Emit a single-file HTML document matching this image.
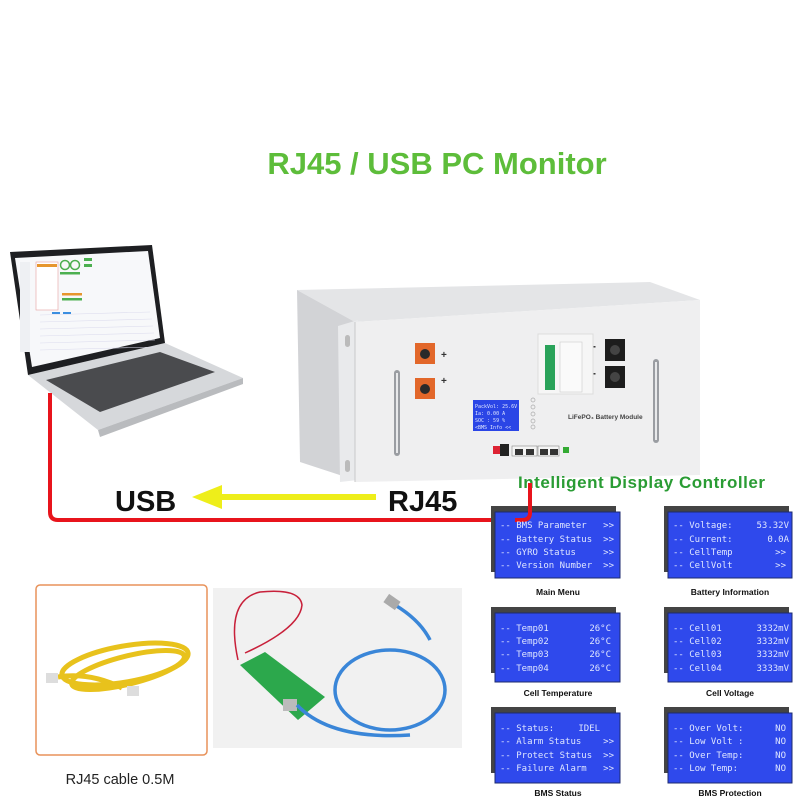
<!DOCTYPE html>
<html><head><meta charset="utf-8"><style>
html,body{margin:0;padding:0;background:#fff;}
svg{display:block;}
.mono{font-family:"DejaVu Sans Mono","Liberation Mono",monospace;font-size:9px;fill:#dfe6ff;}
.lbl{font-family:"Liberation Sans",sans-serif;font-size:8.5px;fill:#111;font-weight:bold;}
</style></head><body>
<svg width="800" height="800" viewBox="0 0 800 800" xmlns="http://www.w3.org/2000/svg">
<rect width="800" height="800" fill="#fff"/>
<text x="437" y="174" text-anchor="middle" font-family="Liberation Sans,sans-serif" font-weight="bold" font-size="31" fill="#5dbd3a">RJ45 / USB PC Monitor</text>

<!-- laptop -->
<polygon points="28,375 165,343 243,378 98,430" fill="#d6d8db"/>
<polygon points="98,430 243,378 243,384 100,437" fill="#b9bbbe"/>
<polygon points="46,380 160,352 215,372 100,412" fill="#4a4b4e"/>
<polygon points="10,252 152,245 165,343 28,375" fill="#1e1f22"/>
<polygon points="15,258 148,251 160,338 32,367" fill="#f7f8fa"/>
<rect x="20" y="262" width="10" height="90" fill="#eef0f3"/>
<rect x="36" y="262" width="22" height="48" fill="#fff" stroke="#e5a0a0" stroke-width="0.6"/>
<rect x="37" y="264" width="20" height="3" fill="#e6962e"/>
<circle cx="65" cy="265" r="4.5" fill="none" stroke="#4caf50" stroke-width="1.5"/>
<circle cx="75" cy="265" r="4.5" fill="none" stroke="#4caf50" stroke-width="1.5"/>
<rect x="60" y="272" width="20" height="2.5" fill="#4caf50"/>
<rect x="62" y="293" width="20" height="2.5" fill="#e6962e"/>
<rect x="62" y="298" width="20" height="2.5" fill="#4caf50"/>
<rect x="84" y="258" width="8" height="3" fill="#4caf50"/>
<rect x="84" y="264" width="8" height="3" fill="#4caf50"/>
<g stroke="#dde" stroke-width="0.6"><line x1="40" y1="315" x2="150" y2="312"/><line x1="40" y1="322" x2="152" y2="319"/><line x1="40" y1="329" x2="153" y2="326"/><line x1="40" y1="336" x2="154" y2="333"/><line x1="40" y1="343" x2="155" y2="340"/><line x1="40" y1="350" x2="156" y2="347"/></g>
<rect x="52" y="312" width="8" height="2" fill="#3b8fe0"/><rect x="63" y="312" width="8" height="2" fill="#3b8fe0"/>

<!-- battery -->
<polygon points="297,290 650,282 700,300 355,322" fill="#e4e5e7"/>
<polygon points="297,290 355,322 355,480 300,462" fill="#d2d3d6"/>
<polygon points="338,326 358,320 358,480 340,482" fill="#e9eaec"/>
<rect x="345" y="335" width="5" height="12" rx="2.5" fill="#bbb"/>
<rect x="345" y="460" width="5" height="12" rx="2.5" fill="#bbb"/>
<polygon points="355,322 700,300 700,475 355,482" fill="#efeff0"/>
<line x1="355" y1="322" x2="355" y2="482" stroke="#c8c8ca"/>
<path d="M397,373 v80" stroke="#9a9da2" stroke-width="6" fill="none" stroke-linecap="round"/>
<path d="M397,373 v80" stroke="#e8e9eb" stroke-width="2" fill="none"/>
<path d="M656,362 v78" stroke="#9a9da2" stroke-width="6" fill="none" stroke-linecap="round"/>
<path d="M656,362 v78" stroke="#e8e9eb" stroke-width="2" fill="none"/>
<rect x="415" y="343" width="20" height="21" fill="#e2672a"/><circle cx="425" cy="354" r="5" fill="#2a2a2a"/>
<rect x="415" y="378" width="20" height="21" fill="#e2672a"/><circle cx="425" cy="389" r="5" fill="#2a2a2a"/>
<text x="441" y="358" font-family="Liberation Sans" font-weight="bold" font-size="10" fill="#333">+</text>
<text x="441" y="384" font-family="Liberation Sans" font-weight="bold" font-size="10" fill="#333">+</text>
<rect x="605" y="339" width="20" height="22" fill="#1d1d1d"/><circle cx="615" cy="350" r="5" fill="#444"/>
<rect x="605" y="366" width="20" height="22" fill="#1d1d1d"/><circle cx="615" cy="377" r="5" fill="#444"/>
<text x="592" y="350" font-family="Liberation Sans" font-weight="bold" font-size="12" fill="#333">-</text>
<text x="592" y="377" font-family="Liberation Sans" font-weight="bold" font-size="12" fill="#333">-</text>
<rect x="538" y="334" width="55" height="60" fill="#f6f6f6" stroke="#ddd"/>
<rect x="545" y="345" width="10" height="45" fill="#2aa35a"/>
<rect x="560" y="342" width="22" height="50" fill="#fafafa" stroke="#ccc" stroke-width="0.6"/>
<rect x="473" y="400" width="46" height="31" fill="#2a45e6"/>
<text x="475" y="408" font-family="DejaVu Sans Mono" font-size="5" fill="#dfe6ff">PackVol: 25.6V</text>
<text x="475" y="415" font-family="DejaVu Sans Mono" font-size="5" fill="#dfe6ff">Ia:   0.00 A</text>
<text x="475" y="422" font-family="DejaVu Sans Mono" font-size="5" fill="#dfe6ff">SOC : 59 %</text>
<text x="475" y="429" font-family="DejaVu Sans Mono" font-size="5" fill="#dfe6ff">&lt;BMS Info &lt;&lt;</text>
<g fill="none" stroke="#aaa" stroke-width="0.7"><circle cx="533" cy="400" r="2"/><circle cx="533" cy="407" r="2"/><circle cx="533" cy="414" r="2"/><circle cx="533" cy="421" r="2"/><circle cx="533" cy="427" r="2"/></g>
<text x="568" y="419" font-family="Liberation Sans" font-weight="bold" font-size="6.5" fill="#444">LiFePO₄ Battery Module</text>
<rect x="493" y="446" width="7" height="8" fill="#d23"/>
<rect x="500" y="444" width="9" height="12" fill="#222"/>
<rect x="512" y="446" width="25" height="10" fill="#f4f4f4" stroke="#888" stroke-width="0.6"/>
<rect x="538" y="446" width="21" height="10" fill="#f4f4f4" stroke="#888" stroke-width="0.6"/>
<rect x="515" y="449" width="8" height="6" fill="#333"/><rect x="526" y="449" width="8" height="6" fill="#333"/>
<rect x="540" y="449" width="8" height="6" fill="#333"/><rect x="550" y="449" width="8" height="6" fill="#333"/>
<rect x="563" y="447" width="6" height="6" fill="#3a3"/>

<path d="M50,393 V512 Q50,520 58,520 H524" fill="none" stroke="#e8141c" stroke-width="4"/>
<text x="115" y="511" font-family="Liberation Sans" font-weight="bold" font-size="29" fill="#111">USB</text>
<text x="388" y="511" font-family="Liberation Sans" font-weight="bold" font-size="29" fill="#111">RJ45</text>
<line x1="215" y1="497" x2="376" y2="497" stroke="#eeee1a" stroke-width="6"/>
<polygon points="192,497 222,485 222,509" fill="#eeee1a"/>

<text x="518" y="488" font-family="Liberation Sans" font-weight="bold" font-size="17" fill="#2a9c34" textLength="247">Intelligent Display Controller</text>

<g>
<rect x="491" y="506" width="125" height="66" fill="#444"/><rect x="495" y="512" width="125" height="66" fill="#2f49ec" stroke="#1d2a6e"/>
<rect x="664" y="506" width="125" height="66" fill="#444"/><rect x="668" y="512" width="124" height="66" fill="#2f49ec" stroke="#1d2a6e"/>
<rect x="491" y="607" width="125" height="66" fill="#444"/><rect x="495" y="613" width="125" height="69" fill="#2f49ec" stroke="#1d2a6e"/>
<rect x="664" y="607" width="125" height="66" fill="#444"/><rect x="668" y="613" width="124" height="69" fill="#2f49ec" stroke="#1d2a6e"/>
<rect x="491" y="707" width="125" height="66" fill="#444"/><rect x="495" y="713" width="125" height="70" fill="#2f49ec" stroke="#1d2a6e"/>
<rect x="664" y="707" width="125" height="66" fill="#444"/><rect x="668" y="713" width="124" height="70" fill="#2f49ec" stroke="#1d2a6e"/>
</g>
<path d="M530,483 V513 Q530,520 522,520 H515" fill="none" stroke="#e8141c" stroke-width="4"/>
<g class="mono">
<text x="500" y="528">-- BMS Parameter</text><text x="500" y="542">-- Battery Status</text><text x="500" y="555">-- GYRO Status</text><text x="500" y="568">-- Version Number</text>
<text x="614" y="528" text-anchor="end">&gt;&gt;</text><text x="614" y="542" text-anchor="end">&gt;&gt;</text><text x="614" y="555" text-anchor="end">&gt;&gt;</text><text x="614" y="568" text-anchor="end">&gt;&gt;</text>
<text x="673" y="528">-- Voltage:</text><text x="673" y="542">-- Current:</text><text x="673" y="555">-- CellTemp</text><text x="673" y="568">-- CellVolt</text>
<text x="789" y="528" text-anchor="end">53.32V</text><text x="789" y="542" text-anchor="end">0.0A</text><text x="786" y="555" text-anchor="end">&gt;&gt;</text><text x="786" y="568" text-anchor="end">&gt;&gt;</text>
<text x="500" y="631">-- Temp01</text><text x="500" y="644">-- Temp02</text><text x="500" y="657">-- Temp03</text><text x="500" y="671">-- Temp04</text>
<text x="611" y="631" text-anchor="end">26°C</text><text x="611" y="644" text-anchor="end">26°C</text><text x="611" y="657" text-anchor="end">26°C</text><text x="611" y="671" text-anchor="end">26°C</text>
<text x="673" y="631">-- Cell01</text><text x="673" y="644">-- Cell02</text><text x="673" y="657">-- Cell03</text><text x="673" y="671">-- Cell04</text>
<text x="789" y="631" text-anchor="end">3332mV</text><text x="789" y="644" text-anchor="end">3332mV</text><text x="789" y="657" text-anchor="end">3332mV</text><text x="789" y="671" text-anchor="end">3333mV</text>
<text x="500" y="731">-- Status:</text><text x="500" y="744">-- Alarm Status</text><text x="500" y="758">-- Protect Status</text><text x="500" y="771">-- Failure Alarm</text>
<text x="600" y="731" text-anchor="end">IDEL</text><text x="614" y="744" text-anchor="end">&gt;&gt;</text><text x="614" y="758" text-anchor="end">&gt;&gt;</text><text x="614" y="771" text-anchor="end">&gt;&gt;</text>
<text x="673" y="731">-- Over Volt:</text><text x="673" y="744">-- Low Volt :</text><text x="673" y="758">-- Over Temp:</text><text x="673" y="771">-- Low Temp:</text>
<text x="786" y="731" text-anchor="end">NO</text><text x="786" y="744" text-anchor="end">NO</text><text x="786" y="758" text-anchor="end">NO</text><text x="786" y="771" text-anchor="end">NO</text>
</g>
<g class="lbl" text-anchor="middle">
<text x="558" y="595">Main Menu</text><text x="730" y="595">Battery Information</text>
<text x="558" y="696">Cell Temperature</text><text x="730" y="696">Cell Voltage</text>
<text x="558" y="796">BMS Status</text><text x="730" y="796">BMS Protection</text>
</g>

<rect x="36" y="585" width="171" height="170" rx="4" fill="#fff" stroke="#e8925a" stroke-width="1.5"/>
<g fill="none" stroke="#e8c21c" stroke-width="5">
<ellipse cx="125" cy="664" rx="64" ry="18" transform="rotate(-10 125 664)"/>
<ellipse cx="128" cy="670" rx="58" ry="14" transform="rotate(-14 128 670)"/>
<path d="M58,677 Q90,672 122,688"/>
</g>
<rect x="46" y="673" width="12" height="10" fill="#ddd"/>
<rect x="127" y="686" width="12" height="10" fill="#ddd"/>
<text x="120" y="784" text-anchor="middle" font-family="Liberation Sans,sans-serif" font-size="14.5" fill="#222">RJ45 cable 0.5M</text>

<rect x="213" y="588" width="249" height="160" fill="#f1f1f1"/>
<path d="M238,660 Q225,600 260,592 Q300,588 302,605 Q300,628 245,653" fill="none" stroke="#c8203a" stroke-width="1.5"/>
<polygon points="240,665 265,652 325,697 298,720" fill="#2ca84c"/>
<rect x="283" y="699" width="14" height="12" fill="#bbb"/>
<g fill="none" stroke="#3a86d8" stroke-width="3.5">
<ellipse cx="390" cy="690" rx="55" ry="40"/>
<path d="M297,705 Q330,740 410,735"/>
<path d="M430,640 Q420,620 395,605"/>
</g>
<rect x="385" y="597" width="14" height="10" fill="#aaa" transform="rotate(35 392 602)"/>
</svg>
</body></html>
